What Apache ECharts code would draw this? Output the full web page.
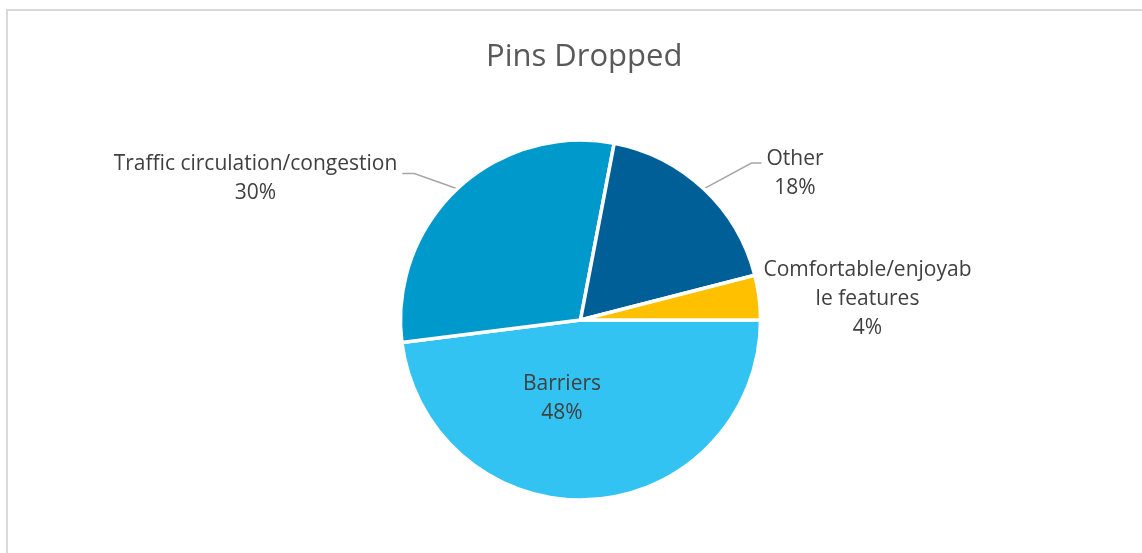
<!DOCTYPE html>
<html>
<head>
<meta charset="utf-8">
<script src="https://cdn.jsdelivr.net/npm/echarts@6/dist/echarts.min.js"></script>
<style>
  html, body { margin: 0; padding: 0; background: #ffffff; }
  #wrap { position: relative; width: 1142px; height: 553px; overflow: hidden; }
  #frame { position: absolute; left: 6px; top: 9px; width: 1200px; height: 600px;
           border-left: 2px solid #d9d9d9; border-top: 2px solid #d9d9d9; box-sizing: border-box; }
  #chart { position: absolute; left: 0; top: 0; width: 1142px; height: 553px; }
</style>
</head>
<body>
<div id="wrap">
  <div id="frame"></div>
  <div id="chart"></div>
</div>
<script>
// ---- data ----
const categories = ['Barriers', 'Traffic circulation/congestion', 'Other', 'Comfortable/enjoyable features'];
const shares = [48, 30, 18, 4];
const chartTitle = 'Pins Dropped';

// ---- styles ----
const sliceColors = ['#33C3F3', '#0099CC', '#005F97', '#FFC000'];
const CX = 580.5, CY = 320, R = 180;
// label placement relative to the pie centre
const labelPlacement = [
  { dx: -18.5, dy: 79 },
  { dx: -325, dy: -141.5, side: 'right', lineDy: -5 },
  { dx: 214.5, dy: -146, side: 'left', lineDy: -11 },
  { dx: 287, dy: -20.5 }
];

const chart = echarts.init(document.getElementById('chart'), null, { renderer: 'canvas' });

const data = categories.map((name, i) => {
  const item = { name: name, value: shares[i], itemStyle: { color: sliceColors[i] } };
  if (i === 0) item.label = { position: 'inside' };
  if (i === 3) { item.label = { width: 211, overflow: 'breakAll' }; item.labelLine = { show: false }; }
  return item;
});

chart.setOption({
  animation: false,
  title: {
    text: chartTitle,
    left: 481,
    top: 37,
    textStyle: { fontFamily: 'Open Sans', fontSize: 31, fontWeight: 'normal', color: '#595959' }
  },
  series: [{
    type: 'pie',
    center: [CX, CY],
    radius: [0, R],
    startAngle: 0,
    clockwise: true,
    avoidLabelOverlap: false,
    emphasis: { disabled: true },
    itemStyle: { borderColor: '#ffffff', borderWidth: 3.5 },
    label: {
      show: true,
      position: 'outside',
      formatter: '{b}\n{d}%',
      fontFamily: 'Open Sans',
      fontSize: 21,
      lineHeight: 29,
      color: '#404040',
      align: 'center'
    },
    labelLine: { show: true, length: 20, length2: 10, lineStyle: { color: '#A6A6A6', width: 1.5 } },
    labelLayout: function (params) {
      const p = labelPlacement[params.dataIndex];
      const x = CX + p.dx, y = CY + p.dy;
      const out = { x: x, y: y, align: 'center', verticalAlign: 'middle' };
      if (p.side && params.labelLinePoints) {
        const w = params.labelRect.width;
        const ly = y + p.lineDy;
        let ex, mx;
        if (p.side === 'right') { ex = x + w / 2 + 5; mx = ex + 12; }
        else { ex = x - w / 2 - 5; mx = ex - 10; }
        out.labelLinePoints = [params.labelLinePoints[0], [mx, ly], [ex, ly]];
      }
      return out;
    },
    data: data
  }]
});
</script>
</body>
</html>
